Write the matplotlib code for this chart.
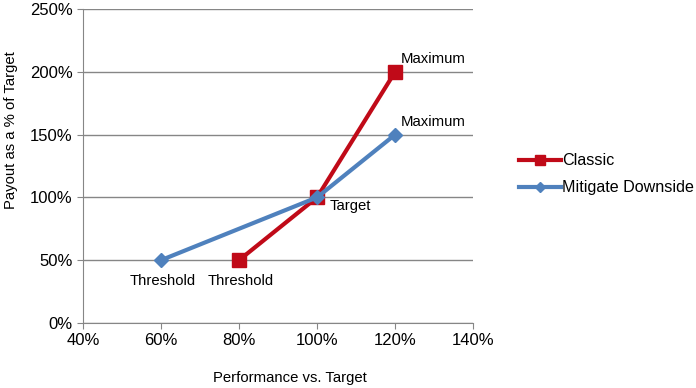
import matplotlib.pyplot as plt
from matplotlib.ticker import FuncFormatter

plt.rcParams['font.family'] = ['Liberation Sans', 'DejaVu Sans']

classic_x = [80, 100, 120]
classic_y = [50, 100, 200]
classic_lbl = ["Threshold", "", "Maximum"]

mitigate_x = [60, 100, 120]
mitigate_y = [50, 100, 150]
mitigate_lbl = ["Threshold", "Target", "Maximum"]

red = '#C00A18'
blue = '#4F81BD'
grey = '#868686'

fig = plt.figure(figsize=(6.96, 3.88), dpi=100)
ax = fig.add_axes([0.119, 0.1675, 0.561, 0.8095])

ax.plot(classic_x, classic_y, color=red, lw=3, marker='s', ms=10, label='Classic', zorder=3)
ax.plot(mitigate_x, mitigate_y, color=blue, lw=3, marker='D', ms=7, label='Mitigate Downside', zorder=4)

def annotate(xs, ys, labels):
    for x, y, t in zip(xs, ys, labels):
        if t == "Threshold":
            ax.annotate(t, (x, y), xytext=(1, -10), textcoords='offset points',
                        ha='center', va='top', fontsize=10.7)
        elif t == "Maximum":
            ax.annotate(t, (x, y), xytext=(4, 9), textcoords='offset points',
                        ha='left', va='center', fontsize=10.7)
        elif t == "Target":
            ax.annotate(t, (x, y), xytext=(9, -6), textcoords='offset points',
                        ha='left', va='center', fontsize=10.7)

annotate(classic_x, classic_y, classic_lbl)
annotate(mitigate_x, mitigate_y, mitigate_lbl)

ax.set_xlim(40, 140)
ax.set_ylim(0, 250)
ax.set_xticks(range(40, 141, 20))
ax.set_yticks(range(0, 251, 50))
pct = FuncFormatter(lambda v, p: f"{v:.0f}%")
ax.xaxis.set_major_formatter(pct)
ax.yaxis.set_major_formatter(pct)
ax.grid(axis='y', color=grey, lw=1)
ax.set_axisbelow(True)
for s in ['top', 'right']:
    ax.spines[s].set_visible(False)
for s in ['left', 'bottom']:
    ax.spines[s].set_color(grey)
ax.tick_params(colors=grey, labelcolor='black', labelsize=12, length=4, direction='out')

ax.set_xlabel("Performance vs. Target", fontsize=10.7)
ax.xaxis.set_label_coords(0.53, -0.152)
ax.set_ylabel("Payout as a % of Target", fontsize=10.7)
ax.yaxis.set_label_coords(-0.166, 0.615)

ax.legend(loc='center left', bbox_to_anchor=(1.08, 0.473), frameon=False, fontsize=11.6,
          handlelength=2.6, handletextpad=0.05, labelspacing=0.75, markerscale=0.7)

fig.savefig('out.png', dpi=100)
